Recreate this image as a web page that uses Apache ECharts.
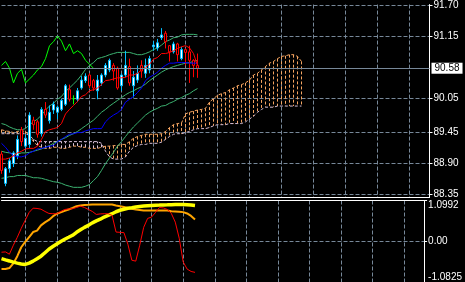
<!DOCTYPE html>
<html><head><meta charset="utf-8">
<script src="https://cdn.jsdelivr.net/npm/echarts@6/dist/echarts.min.js"></script>
<style>html,body{margin:0;padding:0;background:#000}#c{width:465px;height:282px}</style>
</head><body><div id="c"></div>
<script>
// ---- axis ticks ----
const priceTickValues = [91.70, 91.15, 90.05, 89.45, 88.90, 88.35];
const oscTickValues = [-1.0825, 0, 1.0992];
const oscTickLabels = ['-1.0825', '0.00', '1.0992'];
const barCount = 108;
const categories = Array.from({length: barCount}, (_, i) => 'B' + i);
const dojiIndex = 18;

// ---- candles ----
const candleOpen = [89.06,88.54,88.80,88.89,89.03,89.49,89.20,89.23,89.66,89.63,89.42,89.85,89.65,89.84,89.80,89.85,89.94,90.20,90.04,90.03,90.23,90.36,90.46,90.36,90.18,90.32,90.46,90.55,90.63,90.58,90.27,90.46,90.61,90.27,90.37,90.63,90.49,90.55,90.96,90.94,91.12,91.20,90.98,90.87,91.01,90.75,90.91,90.87,90.72,90.63];
const candleClose = [88.77,88.80,88.94,89.08,89.32,89.28,89.34,89.75,89.58,89.41,89.85,89.75,89.80,89.94,89.89,90.01,90.27,90.03,90.04,90.18,90.37,90.44,90.27,90.23,90.37,90.46,90.63,90.72,90.53,90.23,90.46,90.63,90.32,90.42,90.49,90.53,90.63,90.75,90.99,91.03,91.17,91.05,90.87,91.01,90.82,90.91,90.86,90.72,90.63,90.58];
const candleLow = [88.71,88.49,88.73,88.83,88.97,89.20,89.15,89.16,89.49,89.35,89.37,89.70,89.60,89.77,89.68,89.82,89.91,89.99,89.94,89.98,90.20,90.32,90.23,90.18,90.03,90.27,90.42,90.51,90.36,90.20,90.18,90.42,90.27,90.06,90.32,90.41,90.41,90.49,90.89,90.89,91.08,90.93,90.70,90.84,90.70,90.72,90.63,90.32,90.42,90.41];
const candleHigh = [89.11,88.83,88.99,89.11,89.39,89.54,89.41,89.80,89.72,89.66,89.89,89.98,89.92,89.99,89.92,90.04,90.30,90.29,90.10,90.23,90.44,90.49,90.49,90.39,90.46,90.49,90.67,90.75,90.67,90.61,90.49,90.89,90.75,90.53,90.63,90.72,90.75,90.80,91.06,91.10,91.29,91.24,90.99,91.05,91.03,90.96,90.93,90.98,90.74,90.84];

// ---- Ichimoku ----
const tenkan = [88.97,88.97,88.99,89.03,89.08,89.11,89.15,89.16,89.16,89.20,89.32,89.46,89.49,89.51,89.53,89.60,89.77,89.85,89.92,89.99,90.08,90.11,90.18,90.20,90.23,90.29,90.36,90.37,90.39,90.41,90.41,90.42,90.46,90.46,90.49,90.55,90.60,90.65,90.74,90.77,90.84,90.84,90.86,90.89,90.93,90.96,90.98,90.94,90.84,90.63];
const kijun = [89.25,89.18,89.09,89.03,89.01,89.01,89.03,89.08,89.11,89.15,89.16,89.18,89.20,89.21,89.28,89.32,89.37,89.41,89.42,89.44,89.44,89.47,89.49,89.51,89.51,89.51,89.63,89.70,89.75,89.79,89.85,89.98,90.03,90.08,90.15,90.23,90.36,90.42,90.46,90.51,90.58,90.63,90.67,90.67,90.68,90.68,90.68,90.67,90.67,90.67];
const chikou = [90.63,90.70,90.58,90.32,90.49,90.56,90.32,90.39,90.46,90.55,90.61,90.75,90.98,91.05,91.15,91.06,90.89,91.01,90.84,90.89,90.84,90.72,90.65,90.58];
const spanA = [89.49,89.47,89.46,89.44,89.46,89.47,89.46,89.39,89.28,89.21,89.18,89.16,89.16,89.18,89.18,89.16,89.16,89.18,89.20,89.20,89.18,89.18,89.16,89.16,89.16,89.18,89.20,89.20,89.21,89.21,89.23,89.23,89.28,89.34,89.37,89.39,89.41,89.41,89.41,89.41,89.42,89.46,89.53,89.58,89.60,89.61,89.77,89.80,89.82,89.84,89.85,89.87,89.98,90.04,90.10,90.13,90.15,90.20,90.23,90.27,90.29,90.32,90.37,90.46,90.49,90.55,90.61,90.67,90.70,90.75,90.79,90.80,90.82,90.82,90.79,90.70];
const spanB = [89.42,89.42,89.42,89.42,89.42,89.42,89.42,89.39,89.32,89.28,89.28,89.28,89.28,89.28,89.28,89.28,89.28,89.28,89.28,89.28,89.28,89.28,89.28,89.28,89.28,89.25,89.11,89.01,88.97,88.97,88.97,89.01,89.11,89.18,89.21,89.23,89.23,89.25,89.25,89.25,89.27,89.32,89.37,89.41,89.42,89.42,89.44,89.46,89.49,89.51,89.51,89.51,89.53,89.56,89.58,89.58,89.58,89.60,89.60,89.60,89.60,89.63,89.68,89.73,89.80,89.85,89.89,89.89,89.89,89.91,89.91,89.91,89.91,89.91,89.91,89.91];

// ---- Bollinger ----
const bbUpper = [89.60,89.58,89.54,89.51,89.49,89.49,89.51,89.58,89.63,89.68,89.75,89.84,89.91,89.96,90.03,90.08,90.17,90.23,90.30,90.37,90.46,90.56,90.63,90.68,90.75,90.77,90.79,90.82,90.84,90.86,90.86,90.86,90.86,90.84,90.82,90.82,90.84,90.87,90.91,90.94,90.99,91.05,91.08,91.12,91.13,91.17,91.18,91.18,91.18,91.17];
const bbMiddle = [89.11,89.09,89.08,89.06,89.06,89.08,89.08,89.09,89.11,89.13,89.15,89.18,89.21,89.25,89.28,89.32,89.35,89.39,89.42,89.46,89.51,89.56,89.61,89.66,89.73,89.80,89.85,89.91,89.96,90.01,90.06,90.11,90.15,90.18,90.22,90.25,90.30,90.36,90.41,90.46,90.51,90.55,90.58,90.61,90.63,90.65,90.67,90.68,90.70,90.72];
const bbLower = [88.63,88.64,88.66,88.66,88.68,88.68,88.68,88.66,88.64,88.64,88.63,88.61,88.59,88.57,88.56,88.54,88.51,88.49,88.47,88.47,88.47,88.49,88.52,88.59,88.66,88.77,88.89,88.99,89.09,89.20,89.28,89.37,89.46,89.54,89.61,89.68,89.75,89.80,89.84,89.87,89.91,89.92,89.96,89.99,90.03,90.06,90.10,90.13,90.18,90.22];

// ---- oscillator window ----
const oscRed = [-0.285,-0.277,-0.338,-0.098,0.114,0.354,0.567,0.78,0.894,0.886,0.867,0.806,0.753,0.745,0.745,0.806,0.859,0.873,0.878,0.913,0.947,0.913,0.859,0.806,0.726,0.74,0.745,0.745,0.70,0.255,0.247,0.239,-0.072,-0.50,-0.524,-0.098,0.38,0.62,0.655,0.78,0.913,0.90,0.859,0.753,0.52,0.088,-0.543,-0.737,-0.80,-0.825];
const oscOrange = [-0.737,-0.737,-0.71,-0.585,-0.391,-0.152,-0.011,0.122,0.255,0.293,0.434,0.514,0.58,0.673,0.745,0.78,0.82,0.859,0.90,0.947,0.966,0.979,0.984,0.99,0.992,0.992,0.992,0.992,0.992,0.966,0.947,0.926,0.90,0.878,0.859,0.846,0.833,0.833,0.833,0.833,0.833,0.833,0.833,0.814,0.806,0.798,0.788,0.753,0.686,0.593];
const oscYellow = [-0.458,-0.49,-0.519,-0.551,-0.577,-0.599,-0.612,-0.577,-0.524,-0.458,-0.391,-0.298,-0.205,-0.133,-0.064,0.003,0.061,0.114,0.168,0.247,0.314,0.38,0.434,0.50,0.553,0.599,0.657,0.70,0.745,0.798,0.838,0.865,0.891,0.907,0.926,0.939,0.95,0.96,0.966,0.971,0.976,0.982,0.984,0.987,0.99,0.992,0.99,0.987,0.979,0.966];

// ---- build ----
const GRID = '#778899';
const candleData = candleOpen.map((o, i) => {
  const item = {value: [o, candleClose[i], candleLow[i], candleHigh[i]]};
  if (i === dojiIndex) item.itemStyle = {color: '#00FF00', color0: '#00FF00', borderColor: '#00FF00', borderColor0: '#00FF00'};
  return item;
});
const cloudData = spanA.map((a, i) => [i, a, spanB[i]]);
const lastClose = candleClose[candleClose.length - 1];
const gridLineInterval = (idx) => (idx - 6) % 8 === 0;
const lbl = {color: '#fff', fontSize: 10, fontFamily: 'Liberation Sans'};

function line(name, data, color, width, xi, z, type) {
  return {name, type: 'line', data, xAxisIndex: xi, yAxisIndex: xi, showSymbol: false, symbol: 'none',
    lineStyle: {color, width, type: type || 'solid'}, z, silent: true, animation: false};
}

const chart = echarts.init(document.getElementById('c'), null, {renderer: 'canvas'});
chart.setOption({
  backgroundColor: '#000',
  animation: false,
  grid: [
    {left: 1.5, top: 0, width: 428, height: 197.5},
    {left: 1.5, top: 200.5, width: 428, height: 81.5}
  ],
  xAxis: [
    {gridIndex: 0, type: 'category', data: categories, boundaryGap: false,
      axisLine: {show: true, onZero: false, lineStyle: {color: '#fff'}}, axisTick: {show: false}, axisLabel: {show: false},
      splitLine: {show: true, interval: gridLineInterval, lineStyle: {color: GRID, type: [4, 2]}}},
    {gridIndex: 1, type: 'category', data: categories, boundaryGap: false, position: 'top',
      axisLine: {show: true, onZero: false, lineStyle: {color: '#fff'}}, axisTick: {show: false}, axisLabel: {show: false},
      splitLine: {show: true, interval: gridLineInterval, lineStyle: {color: GRID, type: [4, 2]}}}
  ],
  yAxis: [
    {gridIndex: 0, type: 'value', position: 'right', min: 88.29, max: 91.708,
      axisLine: {show: true, lineStyle: {color: '#fff'}},
      axisTick: {show: true, length: 3, customValues: priceTickValues, lineStyle: {color: '#fff'}},
      axisLabel: Object.assign({customValues: priceTickValues, margin: 4,
        verticalAlign: 'middle', verticalAlignMinLabel: 'middle', verticalAlignMaxLabel: 'middle',
        formatter: v => v.toFixed(2)}, lbl),
      splitLine: {show: true, lineStyle: {color: GRID, type: [4, 2]}}},
    {gridIndex: 1, type: 'value', position: 'right', min: oscTickValues[0], max: oscTickValues[2],
      axisLine: {show: true, lineStyle: {color: '#fff'}},
      axisTick: {show: true, length: 3, customValues: oscTickValues, lineStyle: {color: '#fff'}},
      axisLabel: Object.assign({customValues: oscTickValues, margin: 4,
        verticalAlignMinLabel: 'bottom', verticalAlignMaxLabel: 'top',
        formatter: v => oscTickLabels[oscTickValues.indexOf(v)] || ''}, lbl),
      splitLine: {show: true, lineStyle: {color: GRID, type: [4, 2]}}}
  ],
  series: [
    line('Senkou B', spanB, '#D8BFD8', 1, 0, 1, [3, 2]),
    {name: 'Kumo', type: 'custom', xAxisIndex: 0, yAxisIndex: 0, data: cloudData, z: 1, silent: true,
      encode: {x: 0, y: [1, 2]},
      renderItem: function (params, api) {
        const a = api.value(1), b = api.value(2);
        const pa = api.coord([api.value(0), a]);
        const pb = api.coord([api.value(0), b]);
        return {type: 'line', shape: {x1: pa[0], y1: pa[1], x2: pb[0], y2: pb[1]},
          style: {stroke: a >= b ? '#F4A460' : '#D8BFD8', lineWidth: 1, lineDash: [3, 2]}};
      }},
    line('Senkou A', spanA, '#F4A460', 1, 0, 1, [3, 2]),
    line('BB upper', bbUpper, '#3CB371', 1, 0, 2),
    line('BB middle', bbMiddle, '#3CB371', 1, 0, 2),
    line('BB lower', bbLower, '#3CB371', 1, 0, 2),
    {name: 'Price', type: 'candlestick', xAxisIndex: 0, yAxisIndex: 0, data: candleData, barWidth: 2, z: 3, silent: true,
      itemStyle: {color: '#FFFFFF', color0: '#000000', borderColor: '#00BFFF', borderColor0: '#FF0000', borderWidth: 1},
      markLine: {silent: true, symbol: ['none', 'none'], animation: false,
        lineStyle: {color: GRID, type: 'solid', width: 1},
        label: {show: true, position: 'end', distance: 2, formatter: p => p.value.toFixed(2),
          color: '#000', backgroundColor: '#fff', padding: [1, 3, 0, 3], fontSize: 10, fontFamily: 'Liberation Sans'},
        data: [{yAxis: lastClose}]}},
    line('Kijun', kijun, '#0000FF', 1, 0, 4),
    line('Tenkan', tenkan, '#FF0000', 1, 0, 4),
    line('Chikou', chikou, '#00FF00', 1, 0, 4),
    line('Osc orange', oscOrange, '#FFA500', 2, 1, 2),
    line('Osc yellow', oscYellow, '#FFFF00', 3.5, 1, 3),
    line('Osc red', oscRed, '#FF0000', 1, 1, 4)
  ]
});
</script></body></html>
